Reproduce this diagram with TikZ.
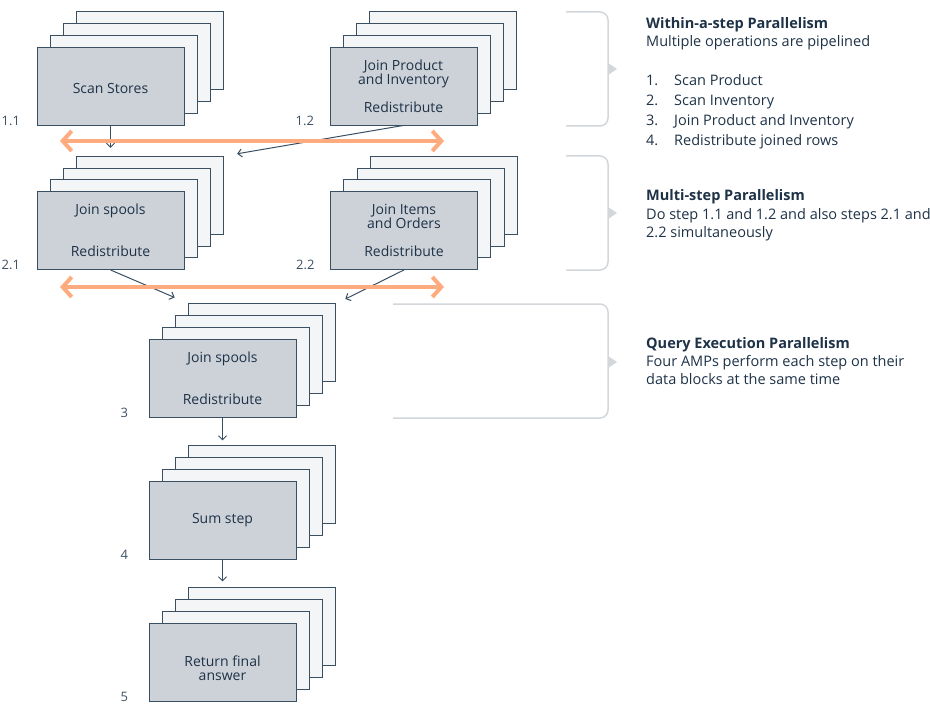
\documentclass[tikz,border=0pt]{standalone}
\usepackage{fontspec}
\setmainfont{Open Sans}
\usetikzlibrary{arrows.meta,positioning}
\definecolor{boxline}{HTML}{3B4F63}
\definecolor{frontfill}{HTML}{CDD2D9}
\definecolor{backfill}{HTML}{F4F5F7}
\definecolor{inktext}{HTML}{1E3247}
\definecolor{labeltext}{HTML}{3E5064}
\definecolor{orangeline}{HTML}{FFAB80}
\definecolor{braceline}{HTML}{D3D7DC}

\begin{document}
\begin{tikzpicture}[x=1pt, y=-1pt,
        every node/.style = {font=\fontsize{14}{14}\selectfont, text=inktext},
        frontbox/.style = {shape=rectangle, draw=boxline, line width=0.9pt,
                           fill=frontfill, minimum width=147pt,
                           minimum height=78pt, inner sep=0pt, align=center},
        backbox/.style = {frontbox, fill=backfill},
        steplabel/.style = {anchor=base east, text=labeltext,
                            font=\fontsize{13}{14}\selectfont},
        flow/.style = {draw=boxline, line width=1pt,
                       -{Straight Barb[length=4pt,width=8pt]}},
        sync/.style = {draw=orangeline, line width=4pt,
                       {Straight Barb[length=9pt,width=20pt]}-{Straight Barb[length=9pt,width=20pt]}},
        brace/.style = {draw=braceline, line width=1.5pt, rounded corners=8pt},
        note/.style = {anchor=base west, align=left, inner sep=0pt,
                       font=\fontsize{14.5}{18}\selectfont}]
    \useasboundingbox (0,0) rectangle (930,706);

    % back layers of each stack
    \foreach \nm/\cx/\cy in {s11/110.5/86, s12/403.5/86, s21/110.5/230.5,
                            s22/404/230.5, s3/222.5/378, s4/222.5/520, s5/222.5/662}
        \foreach \k in {3,2,1}
            \node[backbox] (\nm-\k) at (\cx+\k*13.3, \cy-\k*11.7) {};

    % front boxes
    \node[frontbox, text height=16pt] (s11) at (110.5,86) {Scan Stores};
    \node[frontbox] (s12) at (403.5,86) {Join Product\\and Inventory\\[14pt]Redistribute};
    \node[frontbox] (s21) at (110.5,230.5) {Join spools\\[28pt]Redistribute};
    \node[frontbox] (s22) at (404,230.5) {Join Items\\and Orders\\[14pt]Redistribute};
    \node[frontbox] (s3) at (222.5,378) {Join spools\\[28pt]Redistribute};
    \node[frontbox] (s4) at (222.5,520) {Sum step};
    \node[frontbox, text height=37pt] (s5) at (222.5,662) {Return final\\answer};

    % step numbers
    \node[steplabel] (l11) at ([xshift=-13pt]s11.south west) {1.1};
    \node[steplabel] (l12) at ([xshift=-12pt]s12.south west) {1.2};
    \node[steplabel] (l21) at ([xshift=-13pt]s21.south west) {2.1};
    \node[steplabel] (l22) at ([xshift=-12pt]s22.south west) {2.2};
    \node[steplabel] (l3) at ([xshift=-17pt]s3.south west) {3};
    \node[steplabel] (l4) at ([xshift=-17pt]s4.south west) {4};
    \node[steplabel] (l5) at ([xshift=-17pt]s5.south west) {5};

    % flow between steps
    \draw[flow, shorten >=8pt] (s11.south) -- (s11.south |- s21-3.north);
    \draw[flow, shorten >=13pt] (s12.south) -- (s21-3.north east);
    \draw[flow, shorten >=15pt] (s21.south) -- (s3-3.north west);
    \draw[flow, shorten >=10pt] (s22.south) -- (s3-3.north east);
    \draw[flow, shorten >=5pt] (s3.south) -- (s3.south |- s4-3.north);
    \draw[flow, shorten >=6pt] (s4.south) -- (s4.south |- s5-3.north);

    % parallel steps
    \coordinate (sync1w) at (60,141);
    \coordinate (sync1e) at (444,141);
    \coordinate (sync2w) at (60,287);
    \coordinate (sync2e) at (444,287);
    \draw[sync] (sync1w) -- (sync1e);
    \draw[sync] (sync2w) -- (sync2e);

    % brackets
    \draw[brace] (566,12) -| (608,126) -- (566,126);
    \fill[braceline] (608,63) -- (617,69) -- (608,75) -- cycle;
    \draw[brace] (566,156) -| (608,270) -- (566,270);
    \fill[braceline] (608,207) -- (617,213) -- (608,219) -- cycle;
    \draw[brace] (393,304) -| (608,418) -- (393,418);
    \fill[braceline] (608,356) -- (617,362) -- (608,368) -- cycle;

    % notes
    \node[note] (within) at (646,47) {\textbf{Within-a-step Parallelism}\\Multiple operations are pipelined};
    \node[note, font=\fontsize{14.5}{20}\selectfont] (withinlist) at (646,146)
        {\makebox[28pt][l]{1.}Scan Product\\\makebox[28pt][l]{2.}Scan Inventory\\
         \makebox[28pt][l]{3.}Join Product and Inventory\\\makebox[28pt][l]{4.}Redistribute joined rows};
    \node[note] (multi) at (646,237) {\textbf{Multi-step Parallelism}\\Do step 1.1 and 1.2 and also steps 2.1 and\\2.2 simultaneously};
    \node[note] (query) at (646,384) {\textbf{Query Execution Parallelism}\\Four AMPs perform each step on their\\data blocks at the same time};
\end{tikzpicture}
\end{document}
